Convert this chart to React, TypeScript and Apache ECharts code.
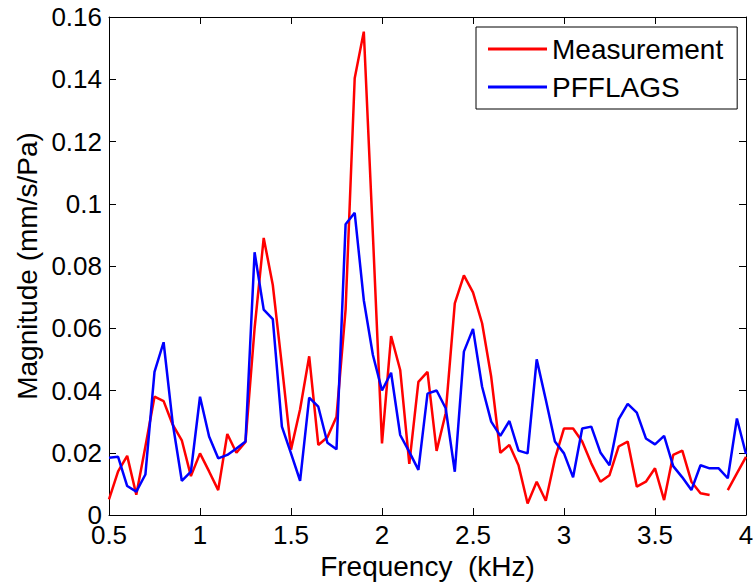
import React, { useEffect, useRef } from "react";
import * as echarts from "echarts";

const freqKHz = [
  0.5, 0.55, 0.6, 0.65, 0.7, 0.75, 0.8, 0.85, 0.9, 0.95,
  1.0, 1.05, 1.1, 1.15, 1.2, 1.25, 1.3, 1.35, 1.4, 1.45,
  1.5, 1.55, 1.6, 1.65, 1.7, 1.75, 1.8, 1.85, 1.9, 1.95,
  2.0, 2.05, 2.1, 2.15, 2.2, 2.25, 2.3, 2.35, 2.4, 2.45,
  2.5, 2.55, 2.6, 2.65, 2.7, 2.75, 2.8, 2.85, 2.9, 2.95,
  3.0, 3.05, 3.1, 3.15, 3.2, 3.25, 3.3, 3.35, 3.4, 3.45,
  3.5, 3.55, 3.6, 3.65, 3.7, 3.75, 3.8, 3.85, 3.9, 3.95,
  4.0,
];

const measurement: (number | null)[] = [
  0.005, 0.014, 0.019, 0.0065, 0.022, 0.038, 0.0366, 0.029, 0.024, 0.0125,
  0.0198, 0.014, 0.008, 0.026, 0.020, 0.0235, 0.06, 0.089, 0.0739, 0.048,
  0.021, 0.034, 0.051, 0.0225, 0.025, 0.0316, 0.066, 0.1403, 0.1553, 0.09,
  0.023, 0.0575, 0.0466, 0.0164, 0.0428, 0.046, 0.0206, 0.0327, 0.068, 0.077,
  0.0715, 0.0616, 0.0444, 0.020, 0.0225, 0.016, 0.0037, 0.0107, 0.0046, 0.018,
  0.0278, 0.0278, 0.0236, 0.0166, 0.0107, 0.0128, 0.022, 0.0236, 0.0091, 0.0107,
  0.015, 0.0048, 0.0193, 0.0207, 0.0107, 0.007, 0.0064, null, 0.008, 0.0134,
  0.0187,
];

const pfflags: number[] = [
  0.0184, 0.0187, 0.0093, 0.0075, 0.013, 0.046, 0.0555, 0.0295, 0.011, 0.0139,
  0.038, 0.0252, 0.0182, 0.0193, 0.0214, 0.0236, 0.0844, 0.066, 0.0629, 0.0284,
  0.0198, 0.011, 0.0377, 0.0348, 0.0232, 0.0211, 0.0934, 0.0971, 0.069, 0.0514,
  0.040, 0.0457, 0.0257, 0.0203, 0.0145, 0.039, 0.040, 0.0343, 0.0139, 0.0525,
  0.0598, 0.0412, 0.030, 0.0254, 0.0302, 0.0207, 0.0198, 0.050, 0.037, 0.0236,
  0.0198, 0.0121, 0.0278, 0.0284, 0.0201, 0.016, 0.0307, 0.0357, 0.0329, 0.0246,
  0.0227, 0.0254, 0.0157, 0.0121, 0.008, 0.016, 0.015, 0.015, 0.0118, 0.031,
  0.0196,
];

const seriesNames = ["Measurement", "PFFLAGS"];
const seriesColors = ["#ff0000", "#0000ff"];

const FONT = "'Liberation Sans', Arial, sans-serif";

export default function App() {
  const ref = useRef<HTMLDivElement>(null);

  useEffect(() => {
    if (!ref.current) return;
    const chart = echarts.init(ref.current, undefined, { renderer: "svg" });

    const toPairs = (vals: (number | null)[]) =>
      freqKHz.map((f, i) => [f, vals[i] === null ? "-" : vals[i]]);

    const fmt = (v: number) => String(+v.toFixed(4));

    const xCommon = {
      type: "value",
      min: 0.5,
      max: 4,
      interval: 0.5,
      axisLine: { show: true, onZero: false, lineStyle: { color: "#000", width: 1 } },
      axisTick: { show: true, inside: true, length: 7, lineStyle: { color: "#000" } },
      splitLine: { show: false },
    };
    const yCommon = {
      type: "value",
      min: 0,
      max: 0.16,
      interval: 0.02,
      axisLine: { show: true, onZero: false, lineStyle: { color: "#000", width: 1 } },
      axisTick: { show: true, inside: true, length: 7, lineStyle: { color: "#000" } },
      splitLine: { show: false },
    };

    chart.setOption({
      animation: false,
      backgroundColor: "#fff",
      textStyle: { fontFamily: FONT },
      grid: {
        left: 109,
        top: 17,
        right: 7,
        bottom: 68,
        containLabel: false,
        outerBoundsMode: "none",
      },
      legend: {
        data: seriesNames.map((n) => ({ name: n, icon: "rect" })),
        orient: "vertical",
        left: 476,
        top: 27,
        itemWidth: 59,
        itemHeight: 3,
        itemGap: 8,
        padding: [7, 14, 7, 12],
        borderColor: "#000",
        borderWidth: 1,
        backgroundColor: "#fff",
        textStyle: { fontFamily: FONT, fontSize: 28, color: "#000", lineHeight: 30 },
      },
      xAxis: [
        {
          ...xCommon,
          position: "bottom",
          name: "Frequency  (kHz)",
          nameLocation: "middle",
          nameGap: 36,
          nameMoveOverlap: false,
          nameTextStyle: { fontFamily: FONT, fontSize: 28, color: "#000", lineHeight: 30 },
          axisLabel: {
            show: true,
            color: "#000",
            fontFamily: FONT,
            fontSize: 26,
            lineHeight: 20,
            margin: 10,
            formatter: fmt,
          },
        },
        {
          ...xCommon,
          position: "top",
          axisLabel: { show: false },
        },
      ],
      yAxis: [
        {
          ...yCommon,
          position: "left",
          name: "Magnitude (mm/s/Pa)",
          nameLocation: "middle",
          nameGap: 68,
          nameMoveOverlap: false,
          nameTextStyle: { fontFamily: FONT, fontSize: 28, color: "#000" },
          axisLabel: {
            show: true,
            color: "#000",
            fontFamily: FONT,
            fontSize: 26,
            lineHeight: 20,
            margin: 7,
            formatter: fmt,
          },
        },
        {
          ...yCommon,
          position: "right",
          axisLabel: { show: false },
        },
      ],
      series: [
        {
          name: seriesNames[0],
          type: "line",
          xAxisIndex: 0,
          yAxisIndex: 0,
          data: toPairs(measurement),
          symbol: "none",
          connectNulls: false,
          color: seriesColors[0],
          itemStyle: { color: seriesColors[0] },
          lineStyle: { color: seriesColors[0], width: 2.5 },
          z: 2,
        },
        {
          name: seriesNames[1],
          type: "line",
          xAxisIndex: 0,
          yAxisIndex: 0,
          data: toPairs(pfflags),
          symbol: "none",
          color: seriesColors[1],
          itemStyle: { color: seriesColors[1] },
          lineStyle: { color: seriesColors[1], width: 2.5 },
          z: 3,
        },
      ],
    });

    return () => chart.dispose();
  }, []);

  return (
    <div
      ref={ref}
      style={{ position: "fixed", left: 0, top: 0, width: 753, height: 583, background: "#fff" }}
    />
  );
}
